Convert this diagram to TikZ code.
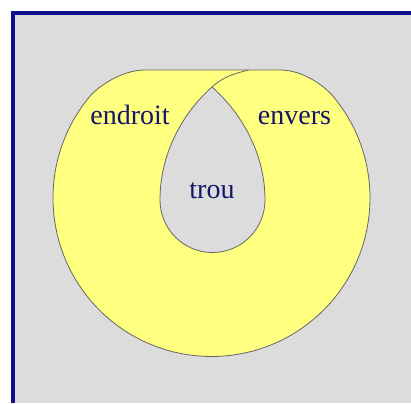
\documentclass[tikz,border=0pt]{standalone}
\usepackage{fontspec}
\setmainfont{Liberation Serif}
\definecolor{bandyellow}{HTML}{FFFF80}
\definecolor{bggray}{HTML}{DCDCDC}
\definecolor{wordblue}{HTML}{15156A}
\definecolor{frameblue}{HTML}{10108C}
\begin{document}
\begin{tikzpicture}[x=1pt, y=1pt,
                band/.style={draw=black!60, line width=0.8pt, fill=bandyellow},
                hole/.style={draw=black!60, line width=0.8pt, fill=bggray},
                word/.style={text=wordblue, font=\fontsize{28}{30}\selectfont, anchor=base}
            ]
            \useasboundingbox (0,0) rectangle (411,403);
            \fill[white] (0,0) rectangle (411,403);
            % Frame
            \fill[bggray] (13,0) rectangle (411,390);
            \draw[frameblue, line width=4pt] (13,0) -- (13,390) -- (411,390);

            % Band
            \draw[band] (145,333) -- (280,333)
                .. controls (305,333) and (326.5,314.6) .. (332.9,306.9)
                arc[start angle=40, end angle=-220, radius=158.5]
                .. controls (96.5,314.6) and (120,333) .. (145,333) -- cycle;

            % Hole
            \coordinate (tip) at (212,316);
            \coordinate (seam) at (248.5,333);
            \draw[hole] (tip) .. controls (185.75,292.9) and (160,253) .. (160,203)
                arc[start angle=180, end angle=360, radius=52.5]
                .. controls (265,253) and (238.25,292.9) .. (tip) -- cycle;
            \draw[black!60, line width=0.8pt] (tip) to[out=42, in=195] (seam);

            % Labels
            \node[word] (endroit) at (130,278) {endroit};
            \node[word] (envers) at (294.5,278) {envers};
            \node[word] (trou) at (212,204) {trou};
            \end{tikzpicture}
\end{document}
